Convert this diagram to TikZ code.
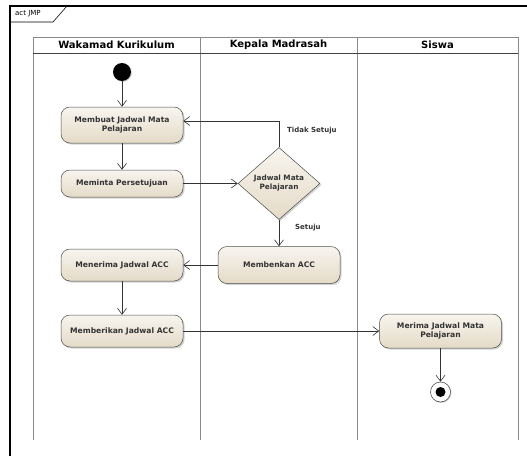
\documentclass[tikz,border=0pt]{standalone}
\usepackage{fontspec}
\setmainfont{DejaVu Sans}
\usetikzlibrary{arrows.meta,shapes.geometric,shadows}
\definecolor{krem}{HTML}{E4DAC7}
\definecolor{kremmuda}{HTML}{F8F5EF}
\definecolor{tepi}{HTML}{4D4D4D}
\definecolor{abu}{HTML}{8A8A8A}
\newcommand{\aksi}[5][32]{%
  % #1 height (default 32), #2 name, #3 x, #4 y, #5 label
  \node[
    draw=tepi,
    rounded corners=9pt,
    line width=0.5pt,
    top color=kremmuda,
    bottom color=krem,
    shading=axis,
    drop shadow={shadow xshift=1.5pt,shadow yshift=-1.5pt,opacity=0.35},
    minimum width=122pt,
    minimum height=#1pt,
    inner sep=1pt,
    font=\fontsize{7.6}{9}\selectfont\bfseries,
    text=black!80,
    align=center
  ] (#2) at (#3,#4) {#5};
}

\begin{document}
\begin{tikzpicture}[x=1pt,y=-1pt]

% arrows, lanes and labels
\tikzset{
  panah/.style={draw=black!80, line width=0.6pt, -{Straight Barb[length=6pt,width=9pt]}},
  jalur/.style={draw=abu, line width=0.8pt},
  judul/.style={font=\fontsize{10}{12}\selectfont\bfseries},
  ket/.style={font=\fontsize{7}{8}\selectfont\bfseries, text=black!80, anchor=west, inner sep=0pt},
}

\useasboundingbox (0,0) rectangle (527,455);
\clip (0,0) rectangle (527,455);

% ---------------- frame ----------------
\draw[line width=0.6pt, fill=white] (10,6) -- (10,22) -- (53,22) -- (67,6);
\draw[line width=2pt] (10,470) -- (10,6) -- (540,6);
\node[font=\fontsize{7}{8}\selectfont, anchor=west, inner sep=0pt] (bingkai) at (15,14) {act JMP};

% ---------------- lanes ----------------
\foreach \x in {33,200,357,518}
  \draw[jalur] (\x,37) -- (\x,440);
\draw[jalur] (33,37) -- (518,37);
\draw[line width=0.9pt, draw=black!75] (33,53) -- (518,53);
\node[judul] (lane1) at (116.5,45) {Wakamad Kurikulum};
\node[judul] (lane2) at (278.5,45) {Kepala Madrasah};
\node[judul] (lane3) at (437.5,45) {Siswa};

% ---------------- Wakamad Kurikulum ----------------
\node[circle, fill=black, minimum size=18pt, inner sep=0pt,
  drop shadow={shadow xshift=1pt,shadow yshift=-1pt,opacity=0.3}] (mulai) at (122,72) {};
\aksi[36]{buat}{122}{125}{Membuat Jadwal Mata\\Pelajaran}
\aksi[27]{minta}{122}{183.5}{Meminta Persetujuan}
\aksi{terima}{122}{265}{Menerima Jadwal ACC}
\aksi{beri}{122}{331}{Memberikan Jadwal ACC}

% ---------------- Kepala Madrasah ----------------
\node[
  diamond,
  draw=tepi,
  line width=0.5pt,
  top color=kremmuda,
  bottom color=krem,
  shading=axis,
  drop shadow={shadow xshift=1.5pt,shadow yshift=-1.5pt,opacity=0.35},
  minimum width=82pt,
  minimum height=72pt,
  inner sep=0pt,
  font=\fontsize{7.3}{9}\selectfont\bfseries,
  text=black!80,
  align=center
] (keputusan) at (279,183.5) {Jadwal Mata\\Pelajaran};
\aksi[37]{acc}{279}{265}{Membenkan ACC}

\node[ket] (tidak) at (287,131) {Tidak Setuju};
\node[ket] (setuju) at (295,228) {Setuju};

% ---------------- Siswa ----------------
\aksi[34]{siswa}{440.5}{331}{Merima Jadwal Mata\\Pelajaran}
\node[circle, draw=tepi, fill=white, line width=0.6pt, minimum size=20pt, inner sep=0pt,
  drop shadow={shadow xshift=1pt,shadow yshift=-1pt,opacity=0.3},
  path picture={\fill[black] (path picture bounding box.center) circle (5pt);}] (selesai) at (440.5,392) {};

% ---------------- flows ----------------
\draw[panah] (mulai) -- (buat);
\draw[panah] (buat) -- (minta);
\draw[panah] (minta) -- (keputusan);
\draw[panah] (keputusan.north) |- ([yshift=4pt]buat.east);
\draw[panah] (keputusan) -- (acc);
\draw[panah] (acc) -- (terima);
\draw[panah] (terima) -- (beri);
\draw[panah] (beri) -- (siswa);
\draw[panah] (siswa) -- (selesai);

\end{tikzpicture}
\end{document}
